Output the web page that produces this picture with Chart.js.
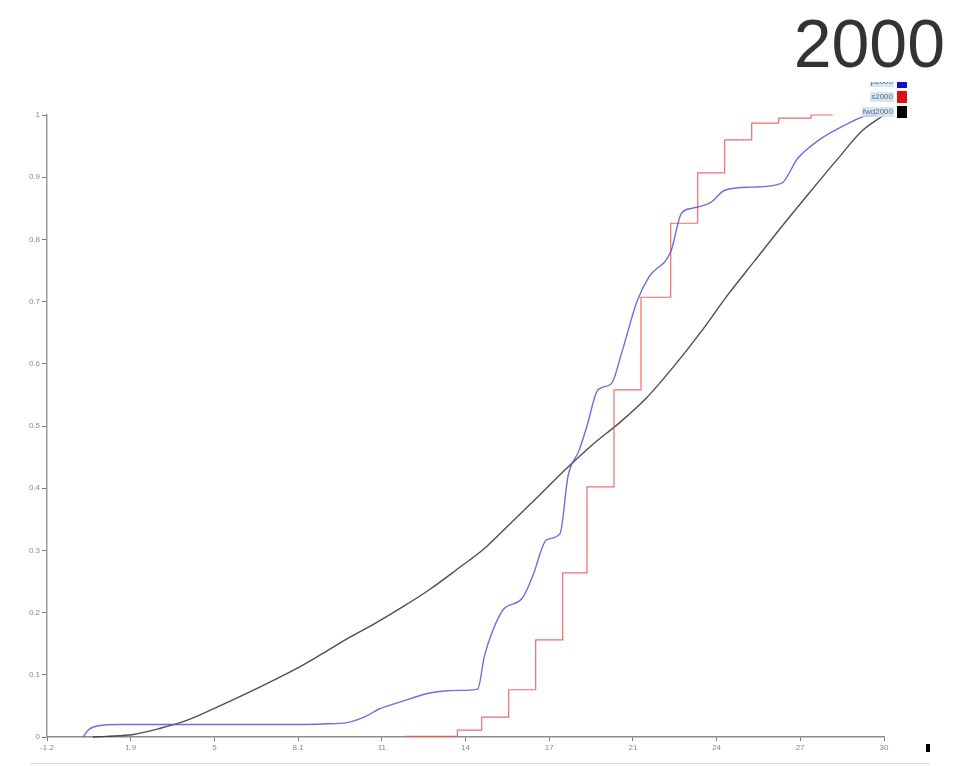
<!DOCTYPE html>
<html>
<head>
<meta charset="utf-8">
<script src="https://cdn.jsdelivr.net/npm/chart.js@4/dist/chart.umd.min.js"></script>
<style>
  html, body { margin: 0; padding: 0; background: #fff; }
  #wrap { position: relative; width: 972px; height: 766px; }
  #title {
    position: absolute; right: 27px; top: 9px;
    font: 68px/68px "Liberation Sans", Arial, sans-serif; color: #333;
  }
  #bottomLine { position: absolute; left: 30px; width: 900px; top: 763px; height: 1px; background: #cfe2ee; }
  #mark { position: absolute; left: 926px; top: 744px; width: 4px; height: 8px; background: #000; }
</style>
</head>
<body>
<div id="wrap">
  <canvas id="cdfChart" width="972" height="766"></canvas>
  <div id="title">2000</div>
  <div id="bottomLine"></div>
  <div id="mark"></div>
</div>
<script>
'use strict';

// series labels (legend)
var seriesLabels = ['p2000', 's2000', 'fwd2000'];

// x axis ticks
var xTickValues = [-1.2, 1.9, 5, 8.1, 11.2, 14.3, 17.4, 20.5, 23.6, 26.7, 29.8];
var xTickLabels = ['-1.2', '1.9', '5', '8.1', '11', '14', '17', '21', '24', '27', '30'];
// y axis ticks
var yTickValues = [0, 0.1, 0.2, 0.3, 0.4, 0.5, 0.6, 0.7, 0.8, 0.9, 1];
var yTickLabels = ['0', '0.1', '0.2', '0.3', '0.4', '0.5', '0.6', '0.7', '0.8', '0.9', '1'];

// blue series
var blueX = [0.13, 0.35, 0.7, 1.5, 3, 5, 7, 9, 10, 10.6, 11.1, 12, 12.9, 13.5, 14.1, 14.75, 15.0, 15.3, 15.7, 16.4, 16.8, 17.3, 17.8, 18.1, 18.5, 18.8, 19.2, 19.7, 20.1, 20.65, 21.1, 21.9, 22.3, 22.7, 23.4, 23.9, 24.9, 26, 26.6, 27.4, 28.65, 29.0, 29.5];
var blueY = [0, 0.012, 0.018, 0.02, 0.02, 0.02, 0.02, 0.021, 0.024, 0.033, 0.045, 0.058, 0.07, 0.074, 0.075, 0.077, 0.13, 0.17, 0.205, 0.223, 0.26, 0.317, 0.327, 0.42, 0.46, 0.5, 0.558, 0.568, 0.62, 0.7, 0.74, 0.78, 0.842, 0.85, 0.86, 0.879, 0.884, 0.89, 0.93, 0.96, 0.99, 0.997, 1.0];

// red series (step function, value holds until the next x)
var redX = [12.06, 14.0, 14.9, 15.9, 16.9, 17.9, 18.8, 19.8, 20.8, 21.9, 22.9, 23.9, 24.9, 25.9, 27.1, 27.9];
var redY = [0.001, 0.011, 0.032, 0.076, 0.156, 0.264, 0.402, 0.558, 0.707, 0.826, 0.907, 0.96, 0.987, 0.995, 1.0, 1.0];

// black series
var blackX = [0.5, 1, 2, 3, 4, 5, 6, 7, 8, 9, 10, 11, 12, 13, 14, 15, 16, 17, 18, 19, 20, 21, 22, 23, 24, 25, 26, 27, 28, 29, 29.8];
var blackY = [0, 0.001, 0.004, 0.014, 0.027, 0.046, 0.066, 0.087, 0.109, 0.134, 0.16, 0.184, 0.21, 0.238, 0.27, 0.303, 0.345, 0.387, 0.43, 0.47, 0.505, 0.545, 0.595, 0.65, 0.71, 0.765, 0.82, 0.873, 0.925, 0.975, 1.0];

var lineColors   = ['rgba(85,85,220,0.85)', 'rgba(240,80,80,0.85)', 'rgba(60,60,60,0.9)'];
var legendColors = ['#1010c8', '#e01010', '#000000'];

function toPoints(xs, ys) {
  return xs.map(function (x, i) { return { x: x, y: ys[i] }; });
}

// draws the small legend at the top right (top row is cut off like in the original)
var cornerLegend = {
  id: 'cornerLegend',
  afterDraw: function (chart) {
    var ctx = chart.ctx;
    ctx.save();
    ctx.beginPath();
    ctx.rect(0, 82, chart.width, chart.height);
    ctx.clip();
    ctx.font = '8px "Liberation Sans", Arial, sans-serif';
    ctx.textAlign = 'right';
    ctx.textBaseline = 'middle';
    chart.data.datasets.forEach(function (ds, i) {
      var y = 82 + i * 15;
      var w = ctx.measureText(ds.label).width;
      ctx.fillStyle = 'rgba(200,225,240,0.8)';
      ctx.fillRect(892 - w, y - 5, w + 2, 10);
      ctx.fillStyle = '#667';
      ctx.fillText(ds.label, 893, y);
      ctx.fillStyle = legendColors[i];
      ctx.fillRect(897, y - 6, 10, 12);
    });
    ctx.restore();
  }
};

var cdfChartCanvas = document.getElementById('cdfChart').getContext('2d');

var cdfChart = new Chart(cdfChartCanvas, {
  type: 'scatter',
  data: {
    datasets: [
      {
        label: seriesLabels[0],
        data: toPoints(blueX, blueY),
        showLine: true,
        borderColor: lineColors[0],
        borderWidth: 1.4,
        pointRadius: 0,
        cubicInterpolationMode: 'monotone',
        clip: 4
      },
      {
        label: seriesLabels[1],
        data: toPoints(redX, redY),
        showLine: true,
        stepped: 'before',
        borderColor: lineColors[1],
        borderWidth: 1.2,
        pointRadius: 0,
        clip: 4
      },
      {
        label: seriesLabels[2],
        data: toPoints(blackX, blackY),
        showLine: true,
        borderColor: lineColors[2],
        borderWidth: 1.4,
        pointRadius: 0,
        cubicInterpolationMode: 'monotone',
        clip: 4
      }
    ]
  },
  options: {
    responsive: false,
    animation: false,
    layout: { padding: { top: 115, right: 88, left: 0, bottom: 0 } },
    plugins: {
      legend: { display: false },
      title: { display: false },
      tooltip: { enabled: false }
    },
    scales: {
      x: {
        type: 'linear',
        min: -1.2,
        max: 29.8,
        afterBuildTicks: function (scale) {
          scale.ticks = xTickValues.map(function (v) { return { value: v }; });
        },
        afterFit: function (scale) { scale.height = 29; },
        ticks: {
          autoSkip: false,
          maxRotation: 0,
          padding: 2,
          color: '#8a8a8a',
          font: { size: 8, family: '"Liberation Sans", Arial, sans-serif' },
          callback: function (value, index) { return xTickLabels[index]; }
        },
        grid: { drawOnChartArea: false, tickLength: 4, color: '#777' },
        border: { color: '#8a8a8a', width: 1.5 }
      },
      y: {
        type: 'linear',
        min: 0,
        max: 1,
        afterBuildTicks: function (scale) {
          scale.ticks = yTickValues.map(function (v) { return { value: v }; });
        },
        afterFit: function (scale) { scale.width = 47; },
        ticks: {
          padding: 2,
          color: '#8a8a8a',
          font: { size: 8, family: '"Liberation Sans", Arial, sans-serif' },
          callback: function (value, index) { return yTickLabels[index]; }
        },
        grid: { drawOnChartArea: false, tickLength: 5, color: '#777' },
        border: { color: '#9a9a9a', width: 1.5 }
      }
    }
  },
  plugins: [cornerLegend]
});
</script>
</body>
</html>
